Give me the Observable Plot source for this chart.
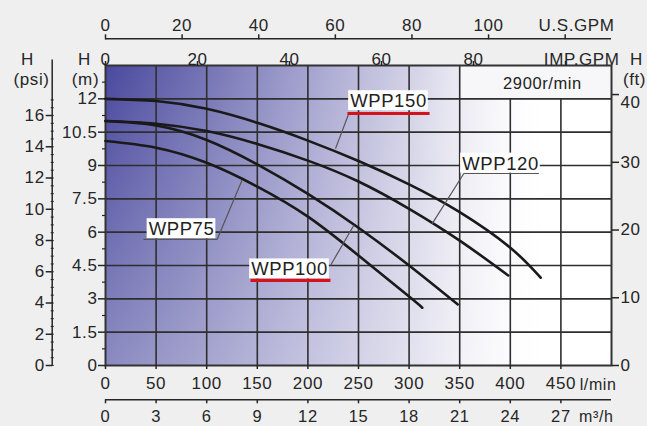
<!DOCTYPE html>
<html><head><meta charset="utf-8">
<script src="https://cdn.jsdelivr.net/npm/d3@7"></script>
<script src="https://cdn.jsdelivr.net/npm/@observablehq/plot@0.6"></script>
<style>
html,body{margin:0;padding:0;background:#efefef;}
svg text{letter-spacing:0.6px;}
</style></head><body><div id="chart"></div>
<script>
// ---- tick values ----
const lminTicks = [0,50,100,150,200,250,300,350,400,450];
const m3hTicks = [0,3,6,9,12,15,18,21,24,27];
const usGpmTicks = [0,20,40,60,80,100,120];
const impGpmTicks = [0,20,40,60,80,100];
const mTicks = [0,1.5,3,4.5,6,7.5,9,10.5,12];
const mMinorTicks = [0.75,2.25,3.75,5.25,6.75,8.25,9.75,11.25,12.75];
const psiTicks = [0,2,4,6,8,10,12,14,16];
const psiMinorTicks = [0,0.5,1,1.5,2,2.5,3,3.5,4,4.5,5,5.5,6,6.5,7,7.5,8,8.5,9,9.5,10,10.5,11,11.5,12,12.5,13,13.5,14,14.5,15,15.5,16,16.5,17];
const ftTicks = [0,10,20,30];
const ftTopTick = [40];

// ---- pump curves (flow l/min, head m) ----
const wpp150Q = [0,50,100,150,200,250,300,350,400,430];
const wpp150H = [12.0,11.9,11.55,10.92,10.12,9.2,8.15,6.9,5.3,3.95];
const wpp120Q = [0,50,100,150,200,250,300,350,398];
const wpp120H = [11.0,10.88,10.55,9.97,9.22,8.28,7.05,5.62,4.05];
const wpp100Q = [0,50,100,150,200,250,300,348];
const wpp100H = [11.0,10.8,10.15,9.05,7.72,6.2,4.5,2.75];
const wpp75Q = [0,50,100,150,200,250,300,313];
const wpp75H = [10.1,9.8,9.12,8.05,6.7,4.95,3.1,2.6];

// ---- labels ----
const labelNames = ["WPP150","WPP120","WPP100","WPP75"];
const labelQ = [279.6, 390.3, 181.8, 75.1];
const labelH = [11.89, 9.08, 4.32, 6.13];
// leader lines [q1,h1,q2,h2]
const leaderLines = [
  [240.4,11.34,227.3,9.76],
  [354.1,8.64,322.7,6.37],
  [222.3,4.50,245.4,6.31],
  [110.4,5.68,135.0,8.35]
];
// underlines [q1,q2,h,color,width]
const underlines = [
  [239.1,320.2,11.34,"#d3121b",3.2],
  [143.3,222.3,3.83,"#d3121b",3.2],
  [354.1,428.2,8.64,"#555",1.2],
  [37.5,110.4,5.68,"#555",1.2]
];

const LMIN_PER_USGPM = 3.78541, LMIN_PER_IMPGPM = 4.54609, LMIN_PER_M3H = 1000/60;
const M_PER_PSI = 0.70307, M_PER_FT = 0.3048;

const toSeries = (name, qs, hs) => qs.map((q,i) => ({name, q, h: hs[i]}));
const curves = [
  ...toSeries("WPP150", wpp150Q, wpp150H),
  ...toSeries("WPP120", wpp120Q, wpp120H),
  ...toSeries("WPP100", wpp100Q, wpp100H),
  ...toSeries("WPP75", wpp75Q, wpp75H)
];
const labels = labelNames.map((n,i) => ({n, q: labelQ[i], h: labelH[i]}));
const gridX = lminTicks.slice(1);
const gridY = mTicks.slice(1);
const ink = "#262626";
const fam = "'Liberation Sans', Arial, sans-serif";

const plot = Plot.plot({
  width: 647, height: 426,
  marginLeft: 105, marginRight: 36, marginTop: 65, marginBottom: 61,
  style: {background: "transparent", fontFamily: fam, color: ink, overflow: "visible"},
  x: {domain: [0, 500], axis: null},
  y: {domain: [0, 13.5], axis: null},
  marks: [
    Plot.frame({fill: "url(#bgH)"}),
    Plot.frame({fill: "url(#bgV)"}),
    Plot.rect([0], {x1: 350, x2: 500, y1: 12, y2: 13.5, fill: "#f7f7fa"}),
    Plot.ruleX(gridX, {y1: 0, y2: d => d >= 400 ? 12 : 13.5, stroke: "#2e2e2e", strokeWidth: 1.6}),
    Plot.ruleY(gridY, {x1: 0, x2: 500, stroke: "#2e2e2e", strokeWidth: 1.6}),
    Plot.frame({stroke: "#333", strokeWidth: 2}),
    // bottom l/min axis
    Plot.axisX(lminTicks, {anchor: "bottom", tickSize: 4, tickPadding: 7, fontSize: 17, strokeWidth: 1.5, tickFormat: d => String(d), label: null}),
    Plot.text(["l/min"], {x: 500, y: 0, dy: 19, textAnchor: "end", fontSize: 16, dx: 5}),
    // m3/h axis
    Plot.ruleY([0], {x1: 0, x2: 500, dy: 34.3, stroke: ink, strokeWidth: 1.5}),
    Plot.axisX(m3hTicks.map(v => v * LMIN_PER_M3H), {anchor: "bottom", dy: 34.3, tickSize: 4, tickPadding: 6, fontSize: 16.5, strokeWidth: 1.5, tickFormat: d => String(Math.round(d / LMIN_PER_M3H)), label: null}),
    Plot.text(["m³/h"], {x: 500, y: 0, dy: 51, textAnchor: "end", fontSize: 16, dx: 2}),
    // US GPM top axis
    Plot.ruleY([13.5], {x1: 0, x2: 500, dy: -26.7, stroke: ink, strokeWidth: 1.5}),
    Plot.axisX(usGpmTicks.map(v => v * LMIN_PER_USGPM), {anchor: "top", dy: -26.7, tickSize: 5, tickPadding: 2.5, fontSize: 17, strokeWidth: 1.5, tickFormat: d => { const v = Math.round(d / LMIN_PER_USGPM); return v === 120 ? "" : String(v); }, label: null}),
    Plot.text(["U.S.GPM"], {x: 500, y: 13.5, dy: -34.5, dx: 3, textAnchor: "end", lineAnchor: "bottom", fontSize: 17}),
    // IMP GPM axis
    Plot.axisX(impGpmTicks.map(v => v * LMIN_PER_IMPGPM), {anchor: "top", tickSize: 5, tickPadding: -4, fontSize: 17, strokeWidth: 1.5, tickFormat: d => { const v = Math.round(d / LMIN_PER_IMPGPM); return v === 100 ? "" : String(v); }, label: null}),
    Plot.text(["IMP.GPM"], {x: 500, y: 13.5, dy: -1, dx: 8, textAnchor: "end", lineAnchor: "bottom", fontSize: 17}),
    // left metres axis
    Plot.axisY(mTicks, {anchor: "left", tickSize: 7, tickPadding: 1, fontSize: 17, strokeWidth: 1.5, tickFormat: d => String(d), label: null}),
    Plot.axisY(mMinorTicks, {anchor: "left", tickSize: 3, strokeWidth: 1.2, tickFormat: () => "", label: null}),
    // psi axis
    Plot.ruleX([0], {y1: 0, y2: 13.75, dx: -53.3, stroke: ink, strokeWidth: 1.5}),
    Plot.axisY(psiTicks.map(p => p * M_PER_PSI), {anchor: "left", dx: -53.3, tickSize: 6, tickPadding: 1.5, fontSize: 17, strokeWidth: 1.5, tickFormat: d => String(Math.round(d / M_PER_PSI)), label: null}),
    Plot.axisY(psiMinorTicks.map(p => p * M_PER_PSI), {anchor: "left", dx: -51.3, tickSize: 3, strokeWidth: 1.1, tickFormat: () => "", label: null}),
    // ft axis
    Plot.axisY(ftTicks.map(f => f * M_PER_FT), {anchor: "right", tickSize: 7, tickPadding: 2, fontSize: 17, strokeWidth: 1.5, tickFormat: d => String(Math.round(d / M_PER_FT)), label: null}),
    Plot.axisY(ftTopTick.map(f => f * M_PER_FT), {anchor: "right", tickSize: 7, text: null, strokeWidth: 1.5, label: null}),
    Plot.text(ftTopTick, {x: 500, y: f => f * M_PER_FT, dx: 9, dy: 8, textAnchor: "start", fontSize: 17}),
    // headings
    Plot.text(["H"], {x: 0, y: 13.5, dx: -78, dy: -1, lineAnchor: "bottom", fontSize: 17}),
    Plot.text(["(psi)"], {x: 0, y: 13.5, dx: -74, dy: 19, lineAnchor: "bottom", fontSize: 17}),
    Plot.text(["H"], {x: 0, y: 13.5, dx: -21, dy: -1, lineAnchor: "bottom", fontSize: 17}),
    Plot.text(["(m)"], {x: 0, y: 13.5, dx: -20, dy: 19, lineAnchor: "bottom", fontSize: 17}),
    Plot.text(["H"], {x: 500, y: 13.5, dx: 25, dy: -1, lineAnchor: "bottom", fontSize: 17}),
    Plot.text(["(ft)"], {x: 500, y: 13.5, dx: 23, dy: 19, lineAnchor: "bottom", fontSize: 17}),
    // curves
    Plot.line(curves, {x: "q", y: "h", z: "name", curve: "natural", stroke: "#1a1a1a", strokeWidth: 2.6}),
    // leaders
    Plot.link(leaderLines, {x1: d => d[0], y1: d => d[1], x2: d => d[2], y2: d => d[3], stroke: "#555", strokeWidth: 1.2}),
    // labels
    Plot.text(labels, {x: "q", y: "h", text: "n", fontSize: 18.5, fill: "#222", className: "wpp-label"}),
    Plot.link(underlines, {x1: d => d[0], x2: d => d[1], y1: d => d[2], y2: d => d[2], stroke: d => d[3], strokeWidth: d => d[4]}),
    Plot.text(["2900r/min"], {x: 431.8, y: 12.7, fontSize: 16.5, fill: "#222"})
  ]
});

document.getElementById("chart").appendChild(plot);

// gradient definitions
const svg = d3.select(plot);
const defs = svg.insert("defs", ":first-child");
const gh = defs.append("linearGradient").attr("id", "bgH").attr("x1", 0).attr("y1", 0).attr("x2", 1).attr("y2", 0);
[[0, "#4a499e"], [0.2, "#7574b5"], [0.4, "#a4a3cf"], [0.6, "#d2d1e6"], [0.7, "#ebeaf3"], [0.8, "#fbfbfd"], [0.86, "#ffffff"], [1, "#ffffff"]]
  .forEach(([o, c]) => gh.append("stop").attr("offset", o).attr("stop-color", c));
const gv = defs.append("linearGradient").attr("id", "bgV").attr("x1", 0).attr("y1", 0).attr("x2", 0).attr("y2", 1);
[[0, 0], [1, 0.36]].forEach(([o, a]) => gv.append("stop").attr("offset", o).attr("stop-color", "#ffffff").attr("stop-opacity", a));

// white boxes behind curve labels
plot.querySelectorAll("g.wpp-label text").forEach(t => {
  const b = t.getBBox();
  const r = document.createElementNS("http://www.w3.org/2000/svg", "rect");
  r.setAttribute("x", b.x - 2); r.setAttribute("y", b.y);
  r.setAttribute("width", b.width + 3); r.setAttribute("height", b.height - 1);
  r.setAttribute("fill", "#ffffff");
  if (t.getAttribute("transform")) r.setAttribute("transform", t.getAttribute("transform"));
  t.parentNode.insertBefore(r, t);
});
</script></body></html>
